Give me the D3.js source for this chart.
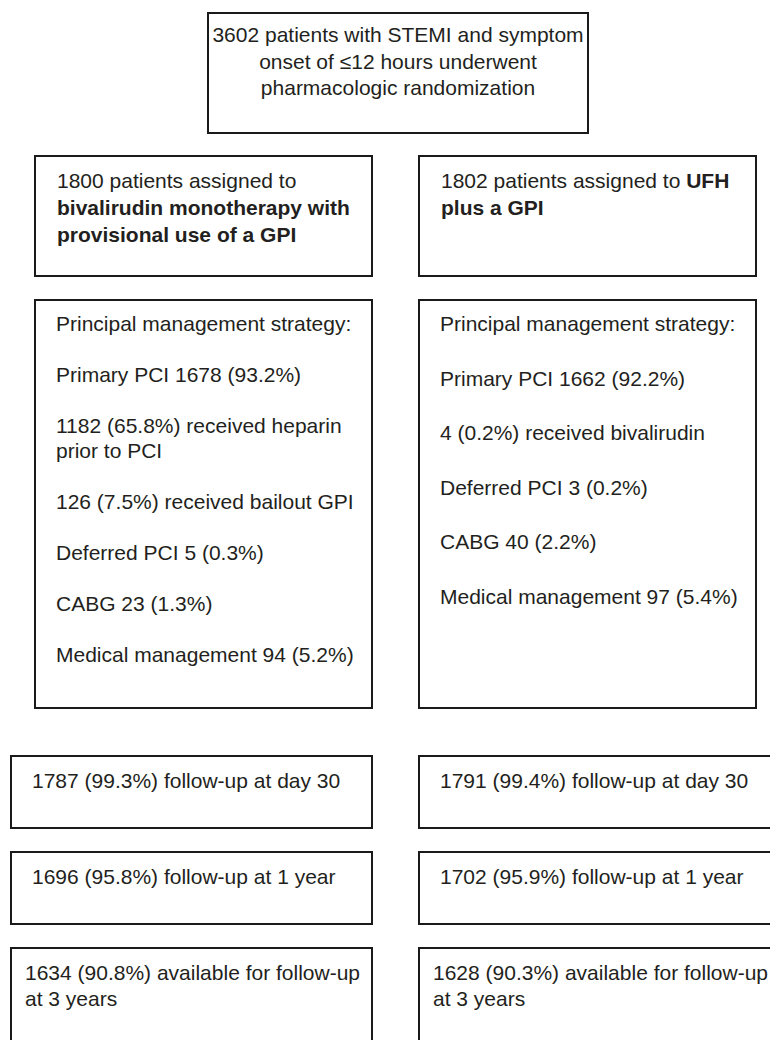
<!DOCTYPE html>
<html>
<head>
<meta charset="utf-8">
<script src="https://cdn.jsdelivr.net/npm/d3@7"></script>
<style>
  html, body { margin: 0; padding: 0; background: #ffffff; }
  svg { display: block; }
</style>
</head>
<body>
<div id="chart"></div>
<script>
// ---------------- DATA ----------------
const randomizationLines = [
  "3602 patients with STEMI and symptom",
  "onset of \u226412 hours underwent",
  "pharmacologic randomization"
];

const arms = ["bivalirudin", "ufh"];

// **text** marks bold runs
const armHeaderLines = {
  bivalirudin: [
    "1800 patients assigned to",
    "**bivalirudin monotherapy with**",
    "**provisional use of a GPI**"
  ],
  ufh: [
    "1802 patients assigned to **UFH**",
    "**plus a GPI**"
  ]
};

// each item is one paragraph; a paragraph may wrap onto several lines
const strategyBivalirudin = [
  ["Principal management strategy:"],
  ["Primary PCI 1678 (93.2%)"],
  ["1182 (65.8%) received heparin", "prior to PCI"],
  ["126 (7.5%) received bailout GPI"],
  ["Deferred PCI 5 (0.3%)"],
  ["CABG 23 (1.3%)"],
  ["Medical management 94 (5.2%)"]
];
const strategyUfh = [
  ["Principal management strategy:"],
  ["Primary PCI 1662 (92.2%)"],
  ["4 (0.2%) received bivalirudin"],
  ["Deferred PCI 3 (0.2%)"],
  ["CABG 40 (2.2%)"],
  ["Medical management 97 (5.4%)"]
];

const followUpStages = ["day30", "year1", "year3"];
const followUpBivalirudin = [
  ["1787 (99.3%) follow-up at day 30"],
  ["1696 (95.8%) follow-up at 1 year"],
  ["1634 (90.8%) available for follow-up", "at 3 years"]
];
const followUpUfh = [
  ["1791 (99.4%) follow-up at day 30"],
  ["1702 (95.9%) follow-up at 1 year"],
  ["1628 (90.3%) available for follow-up", "at 3 years"]
];

// ---------------- LAYOUT ----------------
const W = 770, H = 1040;
const FONT = "Arial, 'Liberation Sans', Helvetica, sans-serif";
const FS = 21;
const INK = "#231f20";
const LINE = "#1a1a1a";

const svg = d3.select("#chart").append("svg")
  .attr("width", W).attr("height", H)
  .attr("viewBox", `0 0 ${W} ${H}`);

svg.append("rect").attr("width", W).attr("height", H).attr("fill", "#fff");

const armX = d3.scaleOrdinal().domain(arms).range([35, 419]);      // arm box left edges
const followX = d3.scaleOrdinal().domain(arms).range([11, 419]);   // follow-up box left edges
const followY = d3.scalePoint().domain(followUpStages).range([756, 948]);
const armBoxW = 337;
const followBoxW = 361;
const strategySpacing = d3.scaleOrdinal().domain(arms).range([51, 54.5]);

function box(x, y, w, h) {
  svg.append("rect")
    .attr("x", x).attr("y", y).attr("width", w).attr("height", h)
    .attr("fill", "none").attr("stroke", LINE).attr("stroke-width", 2);
}

function richLine(x, y, str, anchor) {
  const t = svg.append("text")
    .attr("x", x).attr("y", y)
    .attr("font-family", FONT).attr("font-size", FS)
    .attr("fill", INK)
    .attr("text-anchor", anchor || "start");
  const parts = str.split(/(\*\*[^*]+\*\*)/).filter(s => s.length);
  parts.forEach(p => {
    const bold = p.startsWith("**");
    t.append("tspan")
      .attr("font-weight", bold ? "bold" : "normal")
      .text(bold ? p.slice(2, -2) : p);
  });
  return t;
}

// Top box
box(208, 13, 380, 120);
randomizationLines.forEach((l, i) => richLine(398, 42 + i * 26.5, l, "middle"));

// Arm header boxes
arms.forEach(a => {
  const x = armX(a);
  box(x, 156, armBoxW, 120);
  armHeaderLines[a].forEach((l, i) => richLine(x + 22, 188 + i * 27, l));
});

// Strategy boxes
const strategies = { bivalirudin: strategyBivalirudin, ufh: strategyUfh };
arms.forEach(a => {
  const x = armX(a);
  box(x, 300, armBoxW, 408);
  let y = 331;
  const sp = strategySpacing(a);
  strategies[a].forEach(par => {
    par.forEach((l, j) => richLine(x + 21, y + j * 25, l));
    y += sp + (par.length - 1) * 25;
  });
});

// Follow-up boxes
const followUps = { bivalirudin: followUpBivalirudin, ufh: followUpUfh };
arms.forEach(a => {
  const x = followX(a);
  followUps[a].forEach((lines, i) => {
    const stage = followUpStages[i];
    const y = followY(stage);
    const h = stage === "year3" ? 120 : 72;
    box(x, y, followBoxW, h);
    const pad = lines.length > 1 ? 14 : 21;
    lines.forEach((l, j) => richLine(x + pad, y + 32 + j * 26, l));
  });
});
</script>
</body>
</html>
